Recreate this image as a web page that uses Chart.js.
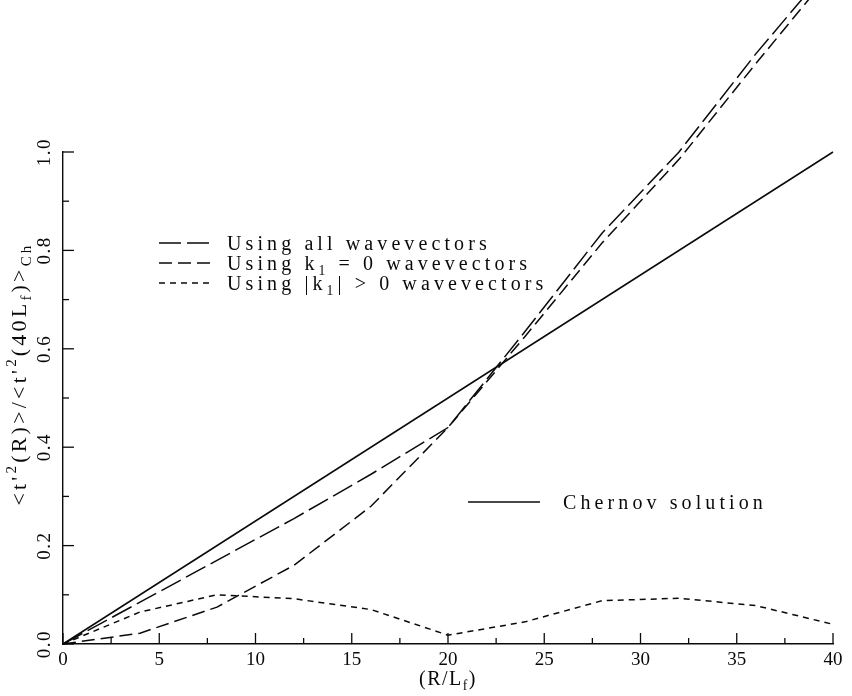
<!DOCTYPE html>
<html>
<head>
<meta charset="utf-8">
<script src="https://cdn.jsdelivr.net/npm/chart.js@4/dist/chart.umd.min.js"></script>
<style>
  html, body { margin: 0; padding: 0; background: #fff; }
  #wrap { width: 852px; height: 696px; }
</style>
</head>
<body>
<div id="wrap"><canvas id="myChart" width="852" height="696"></canvas></div>
<script>
// values
const xValues = [0, 4, 8, 12, 16, 20, 24, 28, 32, 36, 40];
const allWave = [0, 0.085, 0.17, 0.255, 0.345, 0.44, 0.635, 0.835, 1.0, 1.2, 1.385];
const k1Zero = [0, 0.022, 0.075, 0.16, 0.28, 0.44, 0.625, 0.815, 0.985, 1.18, 1.37];
const k1NonZero = [0, 0.065, 0.1, 0.092, 0.07, 0.018, 0.045, 0.088, 0.093, 0.078, 0.04];
const chernovX = [0, 40];
const chernovY = [0, 1];
const xTicks = [0, 5, 10, 15, 20, 25, 30, 35, 40];
const yTicks = [0, 0.2, 0.4, 0.6, 0.8, 1.0];

const SERIF = "'Liberation Serif', 'DejaVu Serif', serif";
const INK = "#0a0a0a";

function pairs(xs, ys) {
  return xs.map((x, i) => ({ x: x, y: ys[i] }));
}

// draws a run of [text, mode] pieces, mode n / sub / sup
function richWidth(ctx, parts, size, spacing) {
  let w = 0;
  parts.forEach(([t, m]) => {
    const s = m === "n" ? size : size * 0.68;
    ctx.font = s + "px " + SERIF;
    ctx.letterSpacing = spacing + "px";
    w += ctx.measureText(t).width;
  });
  return w;
}

function drawRich(ctx, parts, x, y, size, spacing) {
  let cx = x;
  parts.forEach(([t, m]) => {
    const s = m === "n" ? size : size * 0.68;
    const dy = m === "sub" ? size * 0.3 : m === "sup" ? -size * 0.38 : 0;
    ctx.font = s + "px " + SERIF;
    ctx.letterSpacing = spacing + "px";
    ctx.fillText(t, cx, y + dy);
    cx += ctx.measureText(t).width;
  });
}

const legendRows = [
  { ds: 0, y: 243, parts: [["Using all wavevectors", "n"]] },
  { ds: 1, y: 263, parts: [["Using k", "n"], ["1", "sub"], [" = 0 wavevectors", "n"]] },
  { ds: 2, y: 283, parts: [["Using |k", "n"], ["1", "sub"], ["| > 0 wavevectors", "n"]] },
];

const decorPlugin = {
  id: "decor",
  afterDraw(chart) {
    const ctx = chart.ctx;
    const xs = chart.scales.x;
    const ys = chart.scales.y;
    const x0 = xs.getPixelForValue(0);
    const y0 = ys.getPixelForValue(0);

    ctx.save();
    ctx.strokeStyle = INK;
    ctx.lineWidth = 1.3;

    // inward tick marks
    for (let v = 0; v <= 40; v += 2.5) {
      const px = xs.getPixelForValue(v);
      const len = v % 5 === 0 ? 11 : 6;
      ctx.beginPath();
      ctx.moveTo(px, y0);
      ctx.lineTo(px, y0 - len);
      ctx.stroke();
    }
    for (let i = 0; i <= 10; i++) {
      const v = i / 10;
      const py = ys.getPixelForValue(v);
      const len = i % 2 === 0 ? 11 : 6;
      ctx.beginPath();
      ctx.moveTo(x0, py);
      ctx.lineTo(x0 + len, py);
      ctx.stroke();
    }

    ctx.fillStyle = INK;

    // y tick labels, turned
    yTicks.forEach(v => {
      const py = ys.getPixelForValue(v);
      ctx.save();
      ctx.translate(45, py);
      ctx.rotate(-Math.PI / 2);
      ctx.font = "19px " + SERIF;
      ctx.letterSpacing = "1.5px";
      ctx.textAlign = "center";
      ctx.textBaseline = "middle";
      ctx.fillText(v.toFixed(1), 0, 0);
      ctx.restore();
    });

    ctx.textAlign = "left";
    ctx.textBaseline = "middle";

    // y title
    const yTitle = [["<t'", "n"], ["2", "sup"], ["(R)>/<t'", "n"], ["2", "sup"],
                    ["(40L", "n"], ["f", "sub"], [")>", "n"], ["Ch", "sub"]];
    ctx.save();
    ctx.translate(20, 374);
    ctx.rotate(-Math.PI / 2);
    const tw = richWidth(ctx, yTitle, 22, 3.2);
    drawRich(ctx, yTitle, -tw / 2, 0, 22, 3.2);
    ctx.restore();

    // x title
    const xTitle = [["(R/L", "n"], ["f", "sub"], [")", "n"]];
    const xw = richWidth(ctx, xTitle, 20, 1.5);
    drawRich(ctx, xTitle, xs.getPixelForValue(20) - xw / 2, 680, 20, 1.5);

    // legend
    legendRows.forEach(row => {
      const ds = chart.data.datasets[row.ds];
      ctx.setLineDash(ds.borderDash || []);
      ctx.lineWidth = ds.borderWidth;
      ctx.beginPath();
      ctx.moveTo(159, row.y);
      ctx.lineTo(213, row.y);
      ctx.stroke();
      ctx.setLineDash([]);
      drawRich(ctx, row.parts, 227, row.y + 2, 20, 4.1);
    });

    ctx.lineWidth = 1.3;
    ctx.beginPath();
    ctx.moveTo(468, 502);
    ctx.lineTo(540, 502);
    ctx.stroke();
    drawRich(ctx, [[chart.data.datasets[3].label, "n"]], 563, 504, 20, 4.1);

    ctx.restore();
  }
};

const lineStyle = {
  borderColor: INK,
  borderWidth: 1.5,
  pointRadius: 0,
  tension: 0,
  fill: false,
  clip: false,
};

new Chart(document.getElementById("myChart"), {
  type: "line",
  data: {
    datasets: [
      Object.assign({ label: "Using all wavevectors", data: pairs(xValues, allWave), borderDash: [22, 6] }, lineStyle),
      Object.assign({ label: "Using k1 = 0 wavevectors", data: pairs(xValues, k1Zero), borderDash: [13, 6] }, lineStyle),
      Object.assign({ label: "Using |k1| > 0 wavevectors", data: pairs(xValues, k1NonZero), borderDash: [6, 5] }, lineStyle),
      Object.assign({ label: "Chernov solution", data: pairs(chernovX, chernovY), borderDash: [] }, lineStyle),
    ],
  },
  options: {
    responsive: false,
    animation: false,
    layout: { padding: { top: 152, right: 19, left: 0, bottom: 0 } },
    plugins: {
      legend: { display: false },
      tooltip: { enabled: false },
    },
    scales: {
      x: {
        type: "linear",
        min: 0,
        max: 40,
        afterFit: s => { s.height = 52; },
        afterBuildTicks: s => { s.ticks = xTicks.map(v => ({ value: v })); },
        grid: { display: false, drawTicks: false },
        border: { display: true, color: INK, width: 1.4 },
        ticks: {
          color: INK,
          padding: 5,
          maxRotation: 0,
          font: { family: SERIF, size: 19 },
        },
      },
      y: {
        type: "linear",
        min: 0,
        max: 1,
        afterFit: s => { s.width = 63; },
        afterBuildTicks: s => { s.ticks = yTicks.map(v => ({ value: v })); },
        grid: { display: false, drawTicks: false },
        border: { display: true, color: INK, width: 1.4 },
        ticks: { display: false },
      },
    },
  },
  plugins: [decorPlugin],
});
</script>
</body>
</html>
